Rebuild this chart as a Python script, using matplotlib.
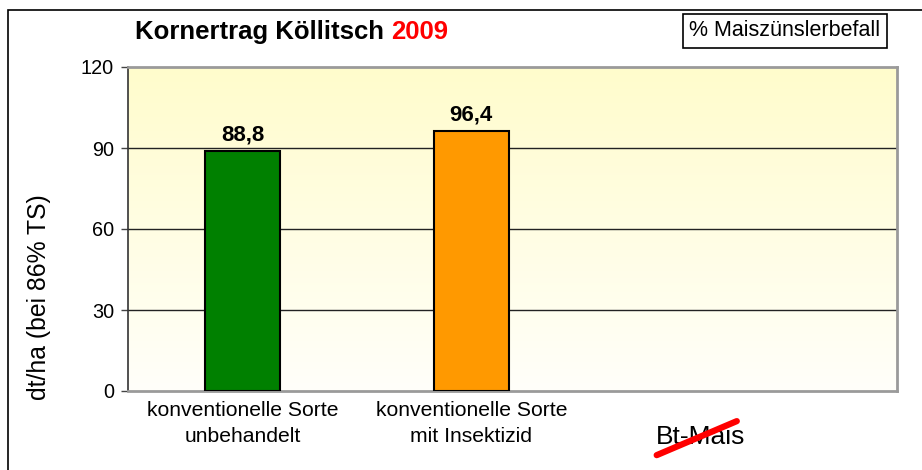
import numpy as np
import matplotlib
matplotlib.use("Agg")
import matplotlib.pyplot as plt
from matplotlib.patches import Rectangle
from matplotlib.lines import Line2D

plt.rcParams["font.family"] = ["Liberation Sans", "DejaVu Sans"]

# data
categories = ["konventionelle Sorte\nunbehandelt",
              "konventionelle Sorte\nmit Insektizid",
              "Bt-Mais"]
values = [88.8, 96.4, None]
value_labels = ["88,8", "96,4", ""]
bar_colors = ["#008000", "#FF9900", "none"]
yticks = [0, 30, 60, 90, 120]

fig = plt.figure(figsize=(9.22, 4.70), dpi=100)
W, H = 922, 470
ax = fig.add_axes([128 / W, (H - 391) / H, (897 - 128) / W, (391 - 67) / H])

# gradient background (yellow at top -> near white at bottom)
grad = np.linspace(0, 1, 256).reshape(-1, 1)
top = np.array([255, 252, 204]) / 255
bot = np.array([255, 255, 250]) / 255
img = bot + (top - bot) * grad[::-1]
img = np.repeat(img[:, None, :], 2, axis=1)
ax.imshow(img, extent=[-0.5, 2.86, 0, 120], aspect="auto", zorder=0)

for y in yticks[1:-1]:
    ax.axhline(y, color="#222222", lw=1.0, zorder=1)

x = np.arange(len(categories))
for xi, v, c, lab in zip(x, values, bar_colors, value_labels):
    if v is None:
        continue
    ax.bar(xi, v, width=0.33, color=c, edgecolor="black", linewidth=1.5, zorder=3)
    ax.text(xi, v + 2.0, lab, ha="center", va="bottom", fontsize=16,
            fontweight="bold", zorder=4)

ax.set_xlim(-0.5, 2.86)
ax.set_ylim(0, 120)
ax.set_yticks(yticks)
ax.set_yticklabels([str(t) for t in yticks], fontsize=14.3)
ax.tick_params(axis="y", direction="out", length=5, width=1, color="#444444", pad=5)
ax.set_xticks(x[:2])
ax.set_xticklabels(categories[:2], fontsize=15.2, linespacing=1.5)
ax.tick_params(axis="x", length=0, pad=7)

# last category drawn as crossed-out label
ax.text(x[2], -0.142, categories[2], transform=ax.get_xaxis_transform(),
        fontsize=19, ha="center", va="center")
strike = Line2D([x[2] - 0.19, x[2] + 0.16], [-0.198, -0.093],
                transform=ax.get_xaxis_transform(), color="red", lw=4.5,
                solid_capstyle="round", clip_on=False, zorder=5)
ax.add_line(strike)

ax.set_ylabel("dt/ha (bei 86% TS)", fontsize=17.8)
ax.yaxis.set_label_coords(-0.10, 0.29)

ax.spines["left"].set_color("#333333")
ax.spines["left"].set_linewidth(1.2)
for s in ["top", "right", "bottom"]:
    ax.spines[s].set_color("#9a9a9a")
    ax.spines[s].set_linewidth(2)

# title in two colours
t1 = fig.text(135 / W, 1 - 32 / H, "Kornertrag Köllitsch ", fontsize=18.5,
              fontweight="bold", va="center", ha="left")
fig.canvas.draw()
bb = t1.get_window_extent()
fig.text(bb.x1 / W, 1 - 32 / H, "2009", fontsize=18.5, fontweight="bold",
         color="red", va="center", ha="left")

# legend-like box
fig.text(785 / W, 1 - 31 / H, "% Maiszünslerbefall", fontsize=15.5,
         ha="center", va="center",
         bbox=dict(boxstyle="square,pad=0.28", fc="white", ec="black", lw=1.2))

# outer chart border
fig.patches.append(Rectangle((8 / W, -0.1), 1.2, 1 - 10 / H + 0.1,
                             transform=fig.transFigure, fill=False,
                             ec="black", lw=1.2))

fig.savefig("out.png", dpi=100)
